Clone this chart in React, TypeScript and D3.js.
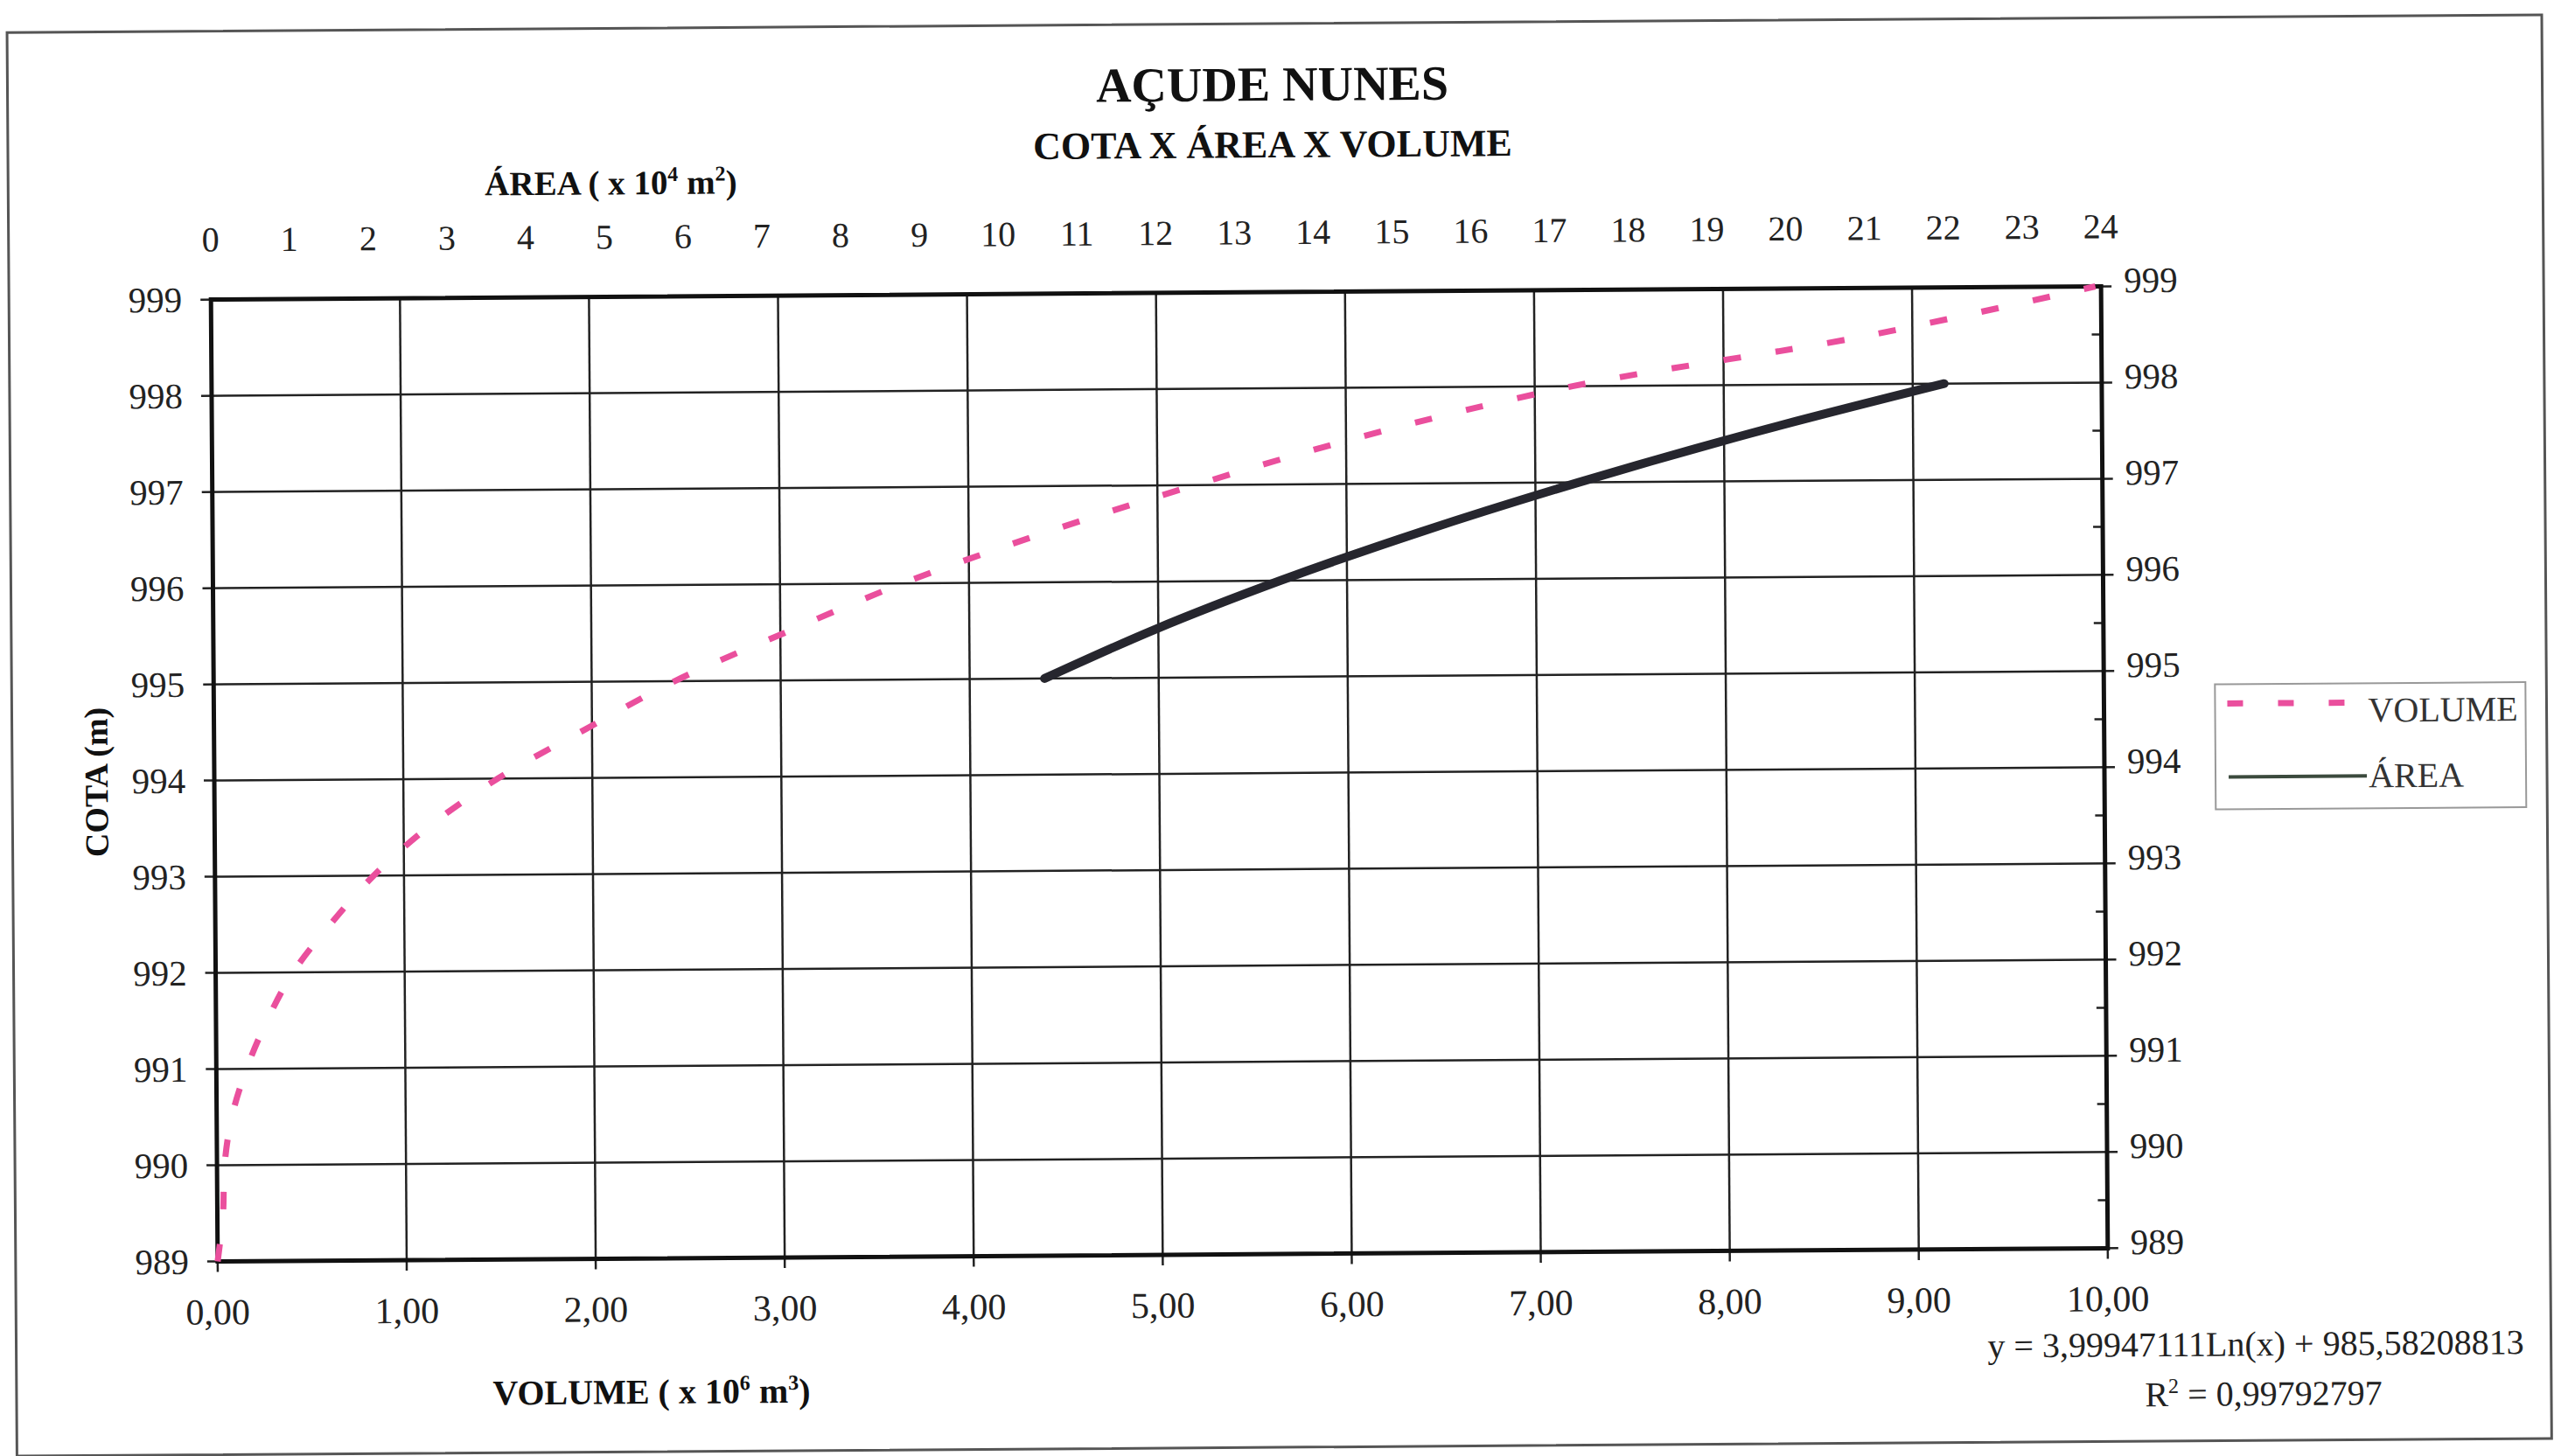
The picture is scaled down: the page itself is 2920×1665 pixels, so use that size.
import React from "react";
import * as d3 from "d3";

// ---- data ----
const COTA_VOL = [989, 989.5, 990, 990.5, 991, 991.5, 992, 992.5, 993, 993.5, 994, 994.5, 995, 995.5, 996, 996.5, 997, 997.5, 998, 998.5, 999];
const VOLUME = [0.0, 0.03, 0.04, 0.08, 0.16, 0.27, 0.41, 0.61, 0.84, 1.13, 1.5, 1.96, 2.44, 3.03, 3.65, 4.38, 5.2, 6.1, 7.2, 8.75, 9.97];
const COTA_AREA = [995, 995.5, 996, 996.5, 997, 997.5, 998];
const AREA = [10.55, 11.95, 13.55, 15.35, 17.35, 19.55, 22.0];

const VOL_TICKS = [0, 1, 2, 3, 4, 5, 6, 7, 8, 9, 10];
const AREA_TICKS = d3.range(0, 25);
const COTA_TICKS = [989, 990, 991, 992, 993, 994, 995, 996, 997, 998, 999];
const COTA_MINOR = [989.5, 990.5, 991.5, 992.5, 993.5, 994.5, 995.5, 996.5, 997.5, 998.5];

const TITLE = "AÇUDE NUNES";
const SUBTITLE = "COTA X ÁREA X VOLUME";
const EQUATION = "y = 3,99947111Ln(x) + 985,58208813";
const R2 = "0,99792797";

const W = 2920;
const H = 1665;
const L = 245, R = 2406, T = 335, B = 1435;
const FONT = "'Liberation Serif', 'Times New Roman', serif";
const PINK = "#ea4f9d";

export default function App() {
  const x = d3.scaleLinear().domain([0, 10]).range([L, R]);
  const xa = d3.scaleLinear().domain([0, 24]).range([L, R]);
  const y = d3.scaleLinear().domain([989, 999]).range([B, T]);

  const volLine = d3
    .line<number>()
    .x((d) => x(d))
    .y((_, i) => y(COTA_VOL[i]))
    .curve(d3.curveCatmullRom.alpha(0.5));
  const areaLine = d3
    .line<number>()
    .x((d) => xa(d))
    .y((_, i) => y(COTA_AREA[i]))
    .curve(d3.curveCatmullRom.alpha(0.5));

  const fmt = (v: number) => v.toFixed(2).replace(".", ",");

  return (
    <svg
      width={W}
      height={H}
      viewBox={`0 0 ${W} ${H}`}
      style={{ position: "absolute", left: 0, top: 0, background: "#fff" }}
      fontFamily={FONT}
    >
      <rect x={0} y={0} width={W} height={H} fill="#fff" />
      <g transform="rotate(-0.4, 1325, 885)">
        {/* outer frame */}
        <rect x={14} y={28} width={2898} height={1628} fill="none" stroke="#555" strokeWidth={3} />

        {/* titles */}
        <text x={1460} y={116} textAnchor="middle" fontSize={56} fontWeight="bold" fill="#111">
          {TITLE}
        </text>
        <text x={1460} y={181} textAnchor="middle" fontSize={44} fontWeight="bold" fill="#111">
          {SUBTITLE}
        </text>

        {/* top axis title */}
        <text x={559} y={218} fontSize={39} fontWeight="bold" fill="#111">
          ÁREA ( x 10
          <tspan dy={-15} fontSize={24}>4</tspan>
          <tspan dy={15}> m</tspan>
          <tspan dy={-15} fontSize={24}>2</tspan>
          <tspan dy={15}>)</tspan>
        </text>

        {/* gridlines */}
        {VOL_TICKS.map((v) => (
          <line key={"gx" + v} x1={x(v)} x2={x(v)} y1={T} y2={B + 12} stroke="#222" strokeWidth={2.5} />
        ))}
        {COTA_TICKS.map((v) => (
          <line key={"gy" + v} x1={L - 12} x2={R + 12} y1={y(v)} y2={y(v)} stroke="#222" strokeWidth={2.5} />
        ))}
        {COTA_MINOR.map((v) => (
          <line key={"mn" + v} x1={R - 11} x2={R} y1={y(v)} y2={y(v)} stroke="#222" strokeWidth={2.5} />
        ))}

        {/* plot border */}
        <rect x={L} y={T} width={R - L} height={B - T} fill="none" stroke="#111" strokeWidth={5} />

        {/* volume series */}
        <path
          d={volLine(VOLUME) || ""}
          fill="none"
          stroke={PINK}
          strokeWidth={7}
          strokeDasharray="20 40"
        />
        {/* area series */}
        <path d={areaLine(AREA) || ""} fill="none" stroke="#26262e" strokeWidth={10} strokeLinecap="round" />

        {/* top tick labels (área) */}
        {AREA_TICKS.map((v) => (
          <text key={"ta" + v} x={xa(v)} y={280} textAnchor="middle" fontSize={40} fill="#222">
            {v}
          </text>
        ))}
        {/* left tick labels */}
        {COTA_TICKS.map((v) => (
          <text key={"tl" + v} x={212} y={y(v)} textAnchor="end" dominantBaseline="central" fontSize={41} fill="#222">
            {v}
          </text>
        ))}
        {/* right tick labels */}
        {COTA_TICKS.map((v) => (
          <text key={"tr" + v} x={2432} y={y(v) - 7} textAnchor="start" dominantBaseline="central" fontSize={41} fill="#222">
            {v}
          </text>
        ))}
        {/* bottom tick labels */}
        {VOL_TICKS.map((v) => (
          <text key={"tb" + v} x={x(v)} y={1507} textAnchor="middle" fontSize={42} fill="#222">
            {fmt(v)}
          </text>
        ))}

        {/* bottom axis title */}
        <text x={740} y={1601} textAnchor="middle" fontSize={40} fontWeight="bold" fill="#111">
          VOLUME  ( x 10
          <tspan dy={-15} fontSize={24}>6</tspan>
          <tspan dy={15}> m</tspan>
          <tspan dy={-15} fontSize={24}>3</tspan>
          <tspan dy={15}>)</tspan>
        </text>

        {/* left axis title */}
        <text
          transform="translate(110, 886) rotate(-90)"
          textAnchor="middle"
          dominantBaseline="central"
          fontSize={38}
          fontWeight="bold"
          fill="#111"
        >
          COTA (m)
        </text>

        {/* legend */}
        <rect x={2533} y={791} width={355} height={143} fill="#fff" stroke="#999" strokeWidth={2} />
        <line x1={2547} x2={2695} y1={813} y2={813} stroke={PINK} strokeWidth={7} strokeDasharray="18 40" />
        <text x={2708} y={835} fontSize={40} fill="#333">VOLUME</text>
        <line x1={2548} x2={2706} y1={897} y2={897} stroke="#3b4a3d" strokeWidth={4} />
        <text x={2708} y={910} fontSize={40} fill="#333">ÁREA</text>

        {/* trendline equation */}
        <text x={2881} y={1559} textAnchor="end" fontSize={40} fill="#222">
          {EQUATION}
        </text>
        <text x={2583} y={1616} textAnchor="middle" fontSize={40} fill="#222">
          R<tspan dy={-15} fontSize={24}>2</tspan>
          <tspan dy={15}> = {R2}</tspan>
        </text>
      </g>
    </svg>
  );
}
